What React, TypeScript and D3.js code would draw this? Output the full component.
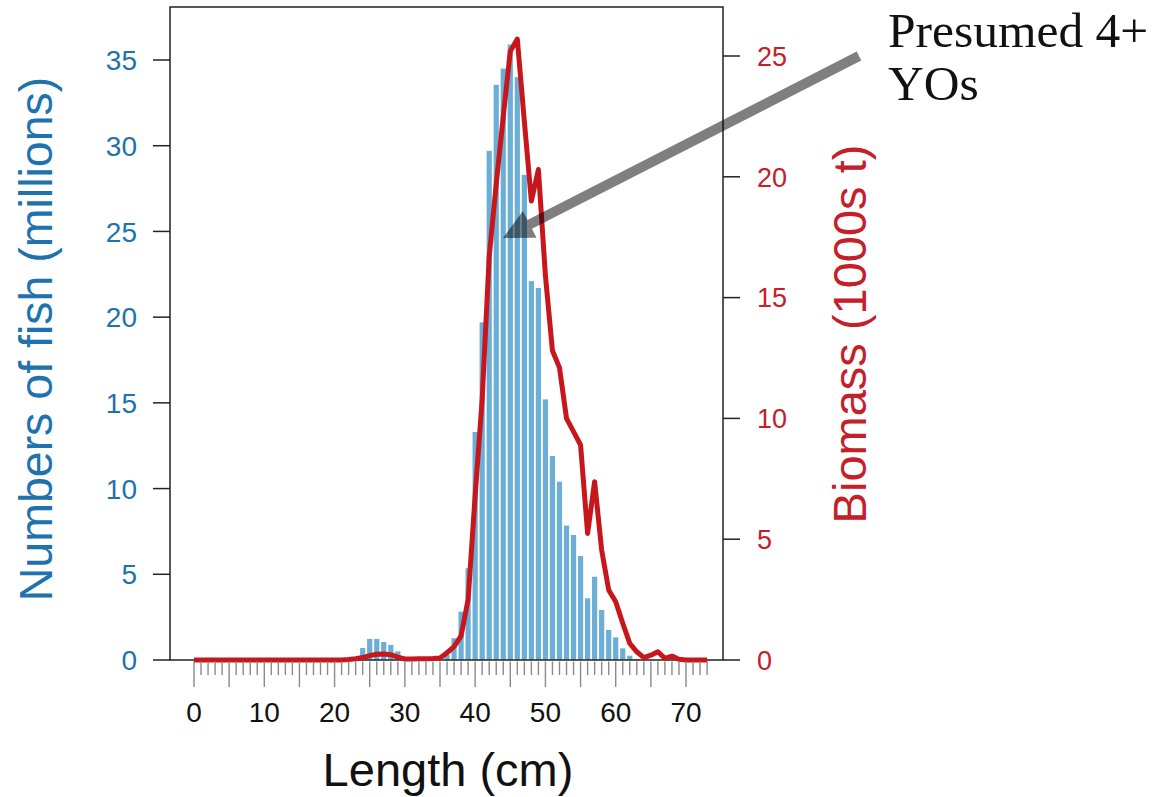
import React from "react";
import * as d3 from "d3";

// Length classes (cm)
const lengths: number[] = d3.range(0, 74);

// Numbers of fish (millions) by length class
const numberValues: number[] = [
  0, 0, 0, 0, 0, 0, 0, 0, 0, 0,
  0, 0, 0, 0, 0, 0, 0, 0, 0, 0,
  0, 0, 0.05, 0.15, 0.7, 1.23, 1.23, 1.05, 0.88, 0.5,
  0, 0, 0, 0, 0, 0, 0.3, 1.27, 2.82, 5.35,
  13.3, 19.7, 29.7, 33.55, 34.5, 35.9, 34.0, 28.3, 22.1, 21.7,
  15.2, 11.9, 10.4, 7.84, 7.29, 6.07, 3.6, 4.86, 2.92, 1.75,
  1.32, 0.68, 0.25, 0.05, 0, 0, 0, 0, 0, 0,
  0, 0, 0, 0,
];

// Biomass (1000s t) by length class
const biomassValues: number[] = [
  0, 0, 0, 0, 0, 0, 0, 0, 0, 0,
  0, 0, 0, 0, 0, 0, 0, 0, 0, 0,
  0, 0, 0.02, 0.05, 0.1, 0.18, 0.24, 0.25, 0.22, 0.12,
  0.04, 0.04, 0.05, 0.05, 0.06, 0.08, 0.3, 0.55, 1.0, 2.5,
  6.8, 10.8, 16.7, 19.7, 22.5, 25.2, 25.7, 22.3, 19.0, 20.3,
  15.9, 12.8, 12.1, 10.0, 9.45, 8.9, 5.24, 7.38, 4.55, 2.9,
  2.41, 1.52, 0.69, 0.34, 0.1, 0.2, 0.34, 0.07, 0.16, 0.03,
  0, 0, 0, 0,
];

const xTickLabels: number[] = [0, 10, 20, 30, 40, 50, 60, 70];
const leftTicks: number[] = [0, 5, 10, 15, 20, 25, 30, 35];
const rightTicks: number[] = [0, 5, 10, 15, 20, 25];

const annotationLines: string[] = ["Presumed 4+", "YOs"];

const BLUE_TEXT = "#1e72ae";
const RED_TEXT = "#c4202a";
const BAR = "#6baed6";
const LINE = "#c8161d";

export default function App() {
  const left = 170, right = 723, top = 7, bottom = 660;
  const x = d3.scaleLinear().domain([0, 70]).range([194, 686]);
  const yL = d3.scaleLinear().domain([0, 35]).range([bottom, 60]);
  const yR = d3.scaleLinear().domain([0, 25]).range([bottom, 56]);
  const barW = 5.2;

  const line = d3
    .line<number>()
    .x((_, i) => x(lengths[i]))
    .y((d) => yR(d));

  // Arrow geometry (annotation)
  const start = [859, 56];
  const tip = [503, 238];
  const dx = tip[0] - start[0], dy = tip[1] - start[1];
  const len = Math.hypot(dx, dy);
  const ux = dx / len, uy = dy / len;
  const px = -uy, py = ux;
  const headLen = 30, headHalf = 15, shaftHalf = 5;
  const bx = tip[0] - ux * headLen, by = tip[1] - uy * headLen;
  const arrowPts = [
    [start[0] + px * shaftHalf, start[1] + py * shaftHalf],
    [bx + px * shaftHalf, by + py * shaftHalf],
    [bx + px * headHalf, by + py * headHalf],
    [tip[0], tip[1]],
    [bx - px * headHalf, by - py * headHalf],
    [bx - px * shaftHalf, by - py * shaftHalf],
    [start[0] - px * shaftHalf, start[1] - py * shaftHalf],
  ];
  const arrowPath = "M" + arrowPts.map((p) => p.join(",")).join("L") + "Z";

  const sans = "'Liberation Sans', Arial, Helvetica, sans-serif";

  return (
    <svg
      width={1153}
      height={797}
      style={{ position: "absolute", left: 0, top: 0, background: "#fff" }}
    >
      {/* bars */}
      {numberValues.map((v, i) =>
        v > 0 ? (
          <rect
            key={"b" + i}
            x={x(lengths[i]) - barW / 2}
            y={yL(v)}
            width={barW}
            height={bottom - yL(v)}
            fill={BAR}
          />
        ) : null
      )}

      {/* frame */}
      <rect
        x={left}
        y={top}
        width={right - left}
        height={bottom - top}
        fill="none"
        stroke="#222"
        strokeWidth={1.5}
      />

      {/* biomass line */}
      <path
        d={line(biomassValues) || ""}
        fill="none"
        stroke={LINE}
        strokeWidth={5}
        strokeLinejoin="round"
      />

      {/* x ticks */}
      {lengths.map((l) => (
        <line
          key={"xt" + l}
          x1={x(l)}
          x2={x(l)}
          y1={bottom + 1.5}
          y2={l % 5 === 0 ? 687 : 675}
          stroke="#8a8a8a"
          strokeWidth={1.4}
        />
      ))}
      {xTickLabels.map((l) => (
        <text
          key={"xl" + l}
          x={x(l)}
          y={722}
          textAnchor="middle"
          fontFamily={sans}
          fontSize={28}
          fill="#111"
        >
          {l}
        </text>
      ))}

      {/* left axis */}
      {leftTicks.map((t) => (
        <g key={"lt" + t}>
          <line x1={153} x2={left} y1={yL(t)} y2={yL(t)} stroke="#222" strokeWidth={1.5} />
          <text
            x={137}
            y={yL(t)}
            dy="0.36em"
            textAnchor="end"
            fontFamily={sans}
            fontSize={28}
            fill={BLUE_TEXT}
          >
            {t}
          </text>
        </g>
      ))}

      {/* right axis */}
      {rightTicks.map((t) => (
        <g key={"rt" + t}>
          <line x1={right} x2={740} y1={yR(t)} y2={yR(t)} stroke="#222" strokeWidth={1.5} />
          <text
            x={757}
            y={yR(t)}
            dy="0.36em"
            textAnchor="start"
            fontFamily={sans}
            fontSize={27}
            fill={RED_TEXT}
          >
            {t}
          </text>
        </g>
      ))}

      {/* axis titles */}
      <text
        transform="translate(52,339) rotate(-90)"
        textAnchor="middle"
        fontFamily={sans}
        fontSize={46.5}
        fill={BLUE_TEXT}
      >
        Numbers of fish (millions)
      </text>
      <text
        transform="translate(866,334) rotate(-90)"
        textAnchor="middle"
        fontFamily={sans}
        fontSize={47}
        fill={RED_TEXT}
      >
        Biomass (1000s t)
      </text>
      <text
        x={448}
        y={786}
        textAnchor="middle"
        fontFamily={sans}
        fontSize={47}
        fill="#111"
      >
        Length (cm)
      </text>

      {/* annotation arrow */}
      <path d={arrowPath} fill="#000" fillOpacity={0.5} />
      {annotationLines.map((s, i) => (
        <text
          key={"an" + i}
          x={888}
          y={47 + i * 53}
          fontFamily="'Liberation Serif', 'DejaVu Serif', serif"
          fontSize={49.5}
          fill="#111"
        >
          {s}
        </text>
      ))}
    </svg>
  );
}
